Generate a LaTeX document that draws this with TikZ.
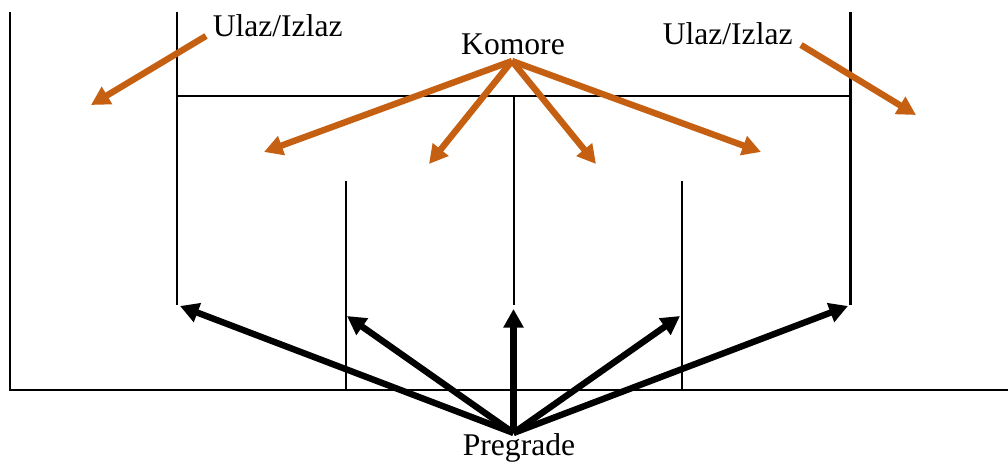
\documentclass[tikz,border=0pt]{standalone}
\usepackage{fontspec}
\setmainfont{Liberation Serif}
\usetikzlibrary{arrows.meta}
\definecolor{rust}{HTML}{C55F12}
\tikzset{
  wall/.style={draw=black,line width=1.6pt},
  thinwall/.style={draw=black,line width=1.4pt},
  lbl/.style={font=\fontsize{23.7}{26}\selectfont,inner sep=0pt,text=black},
  orangearrow/.style={draw=rust,line width=4.8pt,-{Triangle[length=14pt,width=14.5pt]}},
  blackarrow/.style={draw=black,line width=4.8pt,-{Triangle[length=14pt,width=14.5pt]}},
}
\begin{document}
\begin{tikzpicture}[x=0.75pt,y=-0.75pt]
\useasboundingbox (0,0) rectangle (1008,463);
% walls
\coordinate (leftTop) at (10,12);
\coordinate (leftBot) at (10,390);
\coordinate (floorEnd) at (1008,390);
\coordinate (w1t) at (177,12);
\coordinate (w1b) at (177,305);
\coordinate (w5t) at (850.5,12);
\coordinate (w5b) at (850.5,305);
\coordinate (topL) at (177,96);
\coordinate (topR) at (850.5,96);
\coordinate (w3t) at (514,96);
\coordinate (w3b) at (514,305);
\coordinate (w2t) at (346,181);
\coordinate (w2b) at (346,390);
\coordinate (w4t) at (682,181);
\coordinate (w4b) at (682,390);
\draw[wall] (leftTop) -- (leftBot) -- (floorEnd);
\draw[wall] (w1t) -- (w1b);
\draw[wall] (w5t) -- (w5b);
\draw[wall] (topL) -- (topR);
\draw[thinwall] (w3t) -- (w3b);
\draw[thinwall] (w2t) -- (w2b);
\draw[thinwall] (w4t) -- (w4b);
% labels
\node[lbl,anchor=base west] (ul) at (212.5,37) {Ulaz/Izlaz};
\node[lbl,anchor=base west] (ur) at (662.5,45) {Ulaz/Izlaz};
\node[lbl,anchor=base] (kom) at (513,55) {Komore};
\node[lbl,anchor=base] (preg) at (519,456) {Pregrade};
% orange arrows
\coordinate (ka) at (512,61);
\coordinate (k1) at (264,152);
\coordinate (k2) at (429,164);
\coordinate (k3) at (596,164);
\coordinate (k4) at (761,152);
\coordinate (ula) at (206,36);
\coordinate (ulb) at (91,105);
\coordinate (ura) at (801,45);
\coordinate (urb) at (916,115);
\draw[orangearrow] (ka) -- (k1);
\draw[orangearrow] (ka) -- (k2);
\draw[orangearrow] (ka) -- (k3);
\draw[orangearrow] (ka) -- (k4);
\draw[orangearrow] (ula) -- (ulb);
\draw[orangearrow] (ura) -- (urb);
% black arrows
\coordinate (pa) at (513.5,433);
\coordinate (p1) at (180,306);
\coordinate (p2) at (347,316);
\coordinate (p3) at (513.5,309);
\coordinate (p4) at (680,316);
\coordinate (p5) at (848,306);
\draw[blackarrow] (pa) -- (p1);
\draw[blackarrow] (pa) -- (p2);
\draw[blackarrow] (pa) -- (p3);
\draw[blackarrow] (pa) -- (p4);
\draw[blackarrow] (pa) -- (p5);
\end{tikzpicture}
\end{document}
